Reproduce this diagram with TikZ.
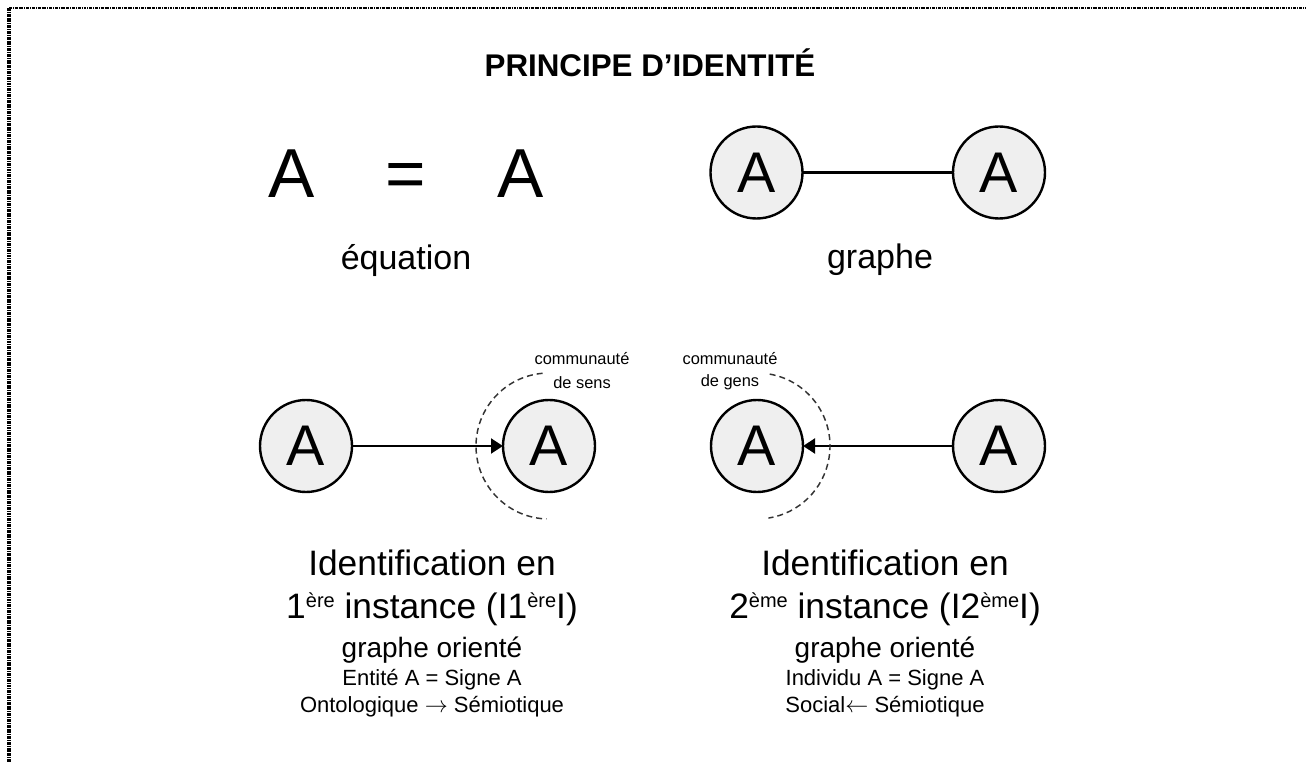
\documentclass[tikz,border=0pt]{standalone}
\usepackage{fontspec}
\setmainfont{Liberation Sans}
\usetikzlibrary{arrows.meta}
\definecolor{circfill}{HTML}{EFEFEF}
\definecolor{dashgray}{HTML}{333333}
\newcommand{\supx}[1]{\raisebox{8pt}{\fontsize{15pt}{15pt}\selectfont #1}}
\begin{document}
\begin{tikzpicture}[x=0.75pt,y=-0.75pt,
  every node/.style={inner sep=0pt, outer sep=0pt, text=black},
  vertex/.style={circle, draw=black, line width=1.8pt, fill=circfill, minimum size=69pt, font=\fontsize{43pt}{43pt}\selectfont},
  bigsym/.style={anchor=base, font=\fontsize{52pt}{52pt}\selectfont},
  midlabel/.style={anchor=base, font=\fontsize{25.5pt}{25.5pt}\selectfont},
  commlabel/.style={anchor=base, font=\fontsize{12.3pt}{12.3pt}\selectfont},
  headline/.style={anchor=base, font=\fontsize{26.5pt}{26.5pt}\selectfont},
  subline/.style={anchor=base, font=\fontsize{21pt}{21pt}\selectfont},
  smallline/.style={anchor=base, font=\fontsize{16.5pt}{16.5pt}\selectfont},
  edgeline/.style={line width=2.2pt},
  arrowline/.style={line width=2.2pt, -{Triangle[length=9pt,width=11pt]}},
  dasharc/.style={dashgray, line width=1.1pt, dash pattern=on 4.5pt off 3pt},
  borderline/.style={black, dash pattern=on 2.2pt off 0.7pt on 0.7pt off 0.7pt}
]
\useasboundingbox (0,0) rectangle (1306,762);
% border
\coordinate (bTL) at (9,8);
\coordinate (bTR) at (1306,8);
\coordinate (bBL) at (9,762);
\draw[borderline, line width=1.6pt] (bTL) -- (bTR);
\draw[borderline, line width=2.3pt] (bTL) -- (bBL);

% title
\node[anchor=base, font=\bfseries\fontsize{23.5pt}{23.5pt}\selectfont] (title) at (650,77) {PRINCIPE D’IDENTITÉ};

% equation
\node[bigsym] (eqA1) at (292,198) {A};
\node[bigsym] (eqEq) at (406,198) {=};
\node[bigsym] (eqA2) at (521,198) {A};
\node[midlabel] (eqLabel) at (406,270) {équation};

% graph
\node[vertex] (g1) at (756.5,172.5) {A};
\node[vertex] (g2) at (999,172.5) {A};
\draw[edgeline] (g1) -- (g2);
\node[midlabel] (gLabel) at (880,269) {graphe};

% oriented graph 1
\node[vertex] (o1) at (306,446) {A};
\node[vertex] (o2) at (549,446) {A};
\draw[arrowline] (o1) -- (o2);
\draw[dasharc] (o2.center) ++(-95:73) arc[start angle=-95, end angle=-268, radius=73];
\node[commlabel] (cs1) at (582,365) {communauté};
\node[commlabel] (cs2) at (582,389) {de sens};

% oriented graph 2
\node[vertex] (s1) at (757,446) {A};
\node[vertex] (s2) at (999,446) {A};
\draw[arrowline] (s2) -- (s1);
\draw[dasharc] (s1.center) ++(-80:73) arc[start angle=-80, end angle=81, radius=73];
\node[commlabel] (cg1) at (730,365) {communauté};
\node[commlabel] (cg2) at (730,387) {de gens};

% left text block
\node[headline] (l1) at (432,575) {Identification en};
\node[headline] (l2) at (432,618) {1\supx{ère} instance (I1\supx{ère}I)};
\node[subline] (l3) at (432,657) {graphe orienté};
\node[smallline] (l4) at (432,685) {Entité A = Signe A};
\node[smallline] (l5) at (432,712) {Ontologique $\rightarrow$ Sémiotique};

% right text block
\node[headline] (r1) at (885,575) {Identification en};
\node[headline] (r2) at (885,618) {2\supx{ème} instance (I2\supx{ème}I)};
\node[subline] (r3) at (885,657) {graphe orienté};
\node[smallline] (r4) at (885,685) {Individu A = Signe A};
\node[smallline] (r5) at (885,712) {Social$\leftarrow$ Sémiotique};
\end{tikzpicture}
\end{document}
